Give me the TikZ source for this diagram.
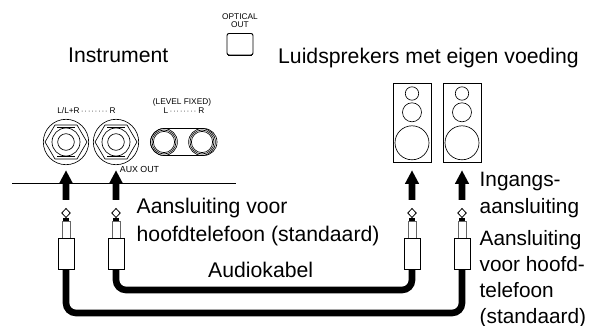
\documentclass[tikz,border=0pt]{standalone}
\usepackage{fontspec}
\setmainfont{Liberation Sans}
\usetikzlibrary{calc}
\tikzset{
 lab/.style={inner sep=0pt,anchor=base west,font=\fontsize{21.2}{24}\selectfont},
 rlab/.style={inner sep=0pt,anchor=base west,font=\fontsize{20.8}{24}\selectfont},
 tiny/.style={inner sep=0pt,anchor=base,font=\fontsize{8.3}{9}\selectfont},
 cable/.style={draw=black,line width=6.6pt,rounded corners=10pt},
 thin/.style={draw=black,line width=0.65pt},
 thinb/.style={draw=black,line width=0.95pt},
}
\newcommand{\onedot}{\textperiodcentered\kern1.1pt}
\newcommand{\dotrow}{\kern1.5pt{\fontsize{7}{7}\selectfont\onedot\onedot\onedot\onedot\onedot\onedot\onedot\onedot}\kern1pt}
\newcommand{\jackplug}[2]{%
 \coordinate (#2) at (#1,238);
 \draw[thin,fill=white,line width=0.8pt] (#1,208.5) -- ++(4.2,4.5) -- ++(-4.2,4.5) -- ++(-4.2,-4.5) -- cycle;
 \fill[black] (#1-3,218) rectangle (#1+3,221.5);
 \draw[draw=black!60,line width=0.8pt,fill=white] (#1-4,221) rectangle (#1+4,238);
 \draw[thinb,fill=white] (#1-8,238) rectangle (#1+8,269.5);
}
\newcommand{\uparr}[1]{%
 \fill[black] (#1-3.3,200) -- (#1-3.3,184) -- (#1-7.2,184) -- (#1,170.5) -- (#1+7.2,184) -- (#1+3.3,184) -- (#1+3.3,200) -- cycle;
}
\newcommand{\speaker}[2]{%
 \node[thinb,draw,minimum width=38pt,minimum height=79pt,inner sep=0pt] (#2) at (#1,122.5) {};
 \draw[thin] (#1,93.5) circle (6.7);
 \draw[thin] (#1,112.3) circle (9.5);
 \draw[thin] (#1,142.8) circle (17);
}
\newcommand{\bigjack}[2]{%
 \coordinate (#2) at (#1,142);
 \draw[thin] (#1,142) circle (22.7);
 \draw[thin] (#1-21,142) -- (#1-11,125) -- (#1+11,125) -- (#1+21,142) -- (#1+11,159) -- (#1-11,159) -- cycle;
 \draw[thin] (#1,142) circle (14);
 \draw[thin] (#1,142) circle (8.3);
 \fill[black] (#1-9,127.2) rectangle (#1+9,128.2);
 \fill[black] (#1-9,155.8) rectangle (#1+9,156.8);
}
\begin{document}
\begin{tikzpicture}[x=1pt,y=-1pt]
\useasboundingbox (0,0) rectangle (595,326);
% texts
\node[lab] (inst) at (68,63) {Instrument};
\node[lab] (luid) at (278,64) {Luidsprekers met eigen voeding};
\node[tiny] (opt1) at (240,20) {OPTICAL};
\node[tiny] (opt2) at (240,28) {OUT};
\draw[draw=black,line width=0.95pt,rounded corners=2pt] (227,33.5) rectangle (253,55);
\draw[draw=black,line width=1.1pt] (228,55.5) -- (252,55.5);
\node[tiny] (ll) at (86.5,114) {L/L+R\dotrow R};
\node[tiny] (lf) at (182,105) {(LEVEL FIXED)};
\node[tiny] (lr) at (184,114) {L\dotrow R};
\node[inner sep=0pt,anchor=base,font=\fontsize{8.8}{9}\selectfont] (aux) at (139.5,173) {AUX OUT};
% jacks
\bigjack{66}{ja}
\bigjack{116}{jb}
\draw[thin,rounded corners=13.4pt] (150.5,128.5) rectangle (217,155.5);
\foreach \c in {164,202}{
 \draw[thin] (\c,142) circle (13.4);
 \draw[thin,fill=white] (\c,142) circle (12);
 \draw[thin] (\c,142) circle (10.6);
}
% line
\draw[line width=0.8pt] (12,183) -- (236,183);
% speakers
\speaker{412}{spa}
\speaker{462}{spb}
% arrows
\uparr{66}\uparr{116}\uparr{412}\uparr{462}
% cables
\draw[cable] (116,266) -- (116,290) -- (412,290) -- (412,266);
\draw[cable] (66,266) -- (66,313) -- (462,313) -- (462,266);
\jackplug{66}{pa}
\jackplug{116}{pb}
\jackplug{412}{pc}
\jackplug{462}{pd}
% labels
\node[lab] (t1) at (136.5,214) {Aansluiting voor};
\node[lab] (t2) at (136.5,241) {hoofdtelefoon (standaard)};
\node[lab] (t3) at (208,277) {Audiokabel};
\node[rlab] (t4) at (479.5,187) {Ingangs-};
\node[rlab] (t5) at (479.5,214) {aansluiting};
\node[rlab] (t6) at (479.5,245) {Aansluiting};
\node[rlab] (t7) at (479.5,272) {voor hoofd-};
\node[rlab] (t8) at (479.5,298) {telefoon};
\node[rlab] (t9) at (479.5,323) {(standaard)};
\end{tikzpicture}
\end{document}
